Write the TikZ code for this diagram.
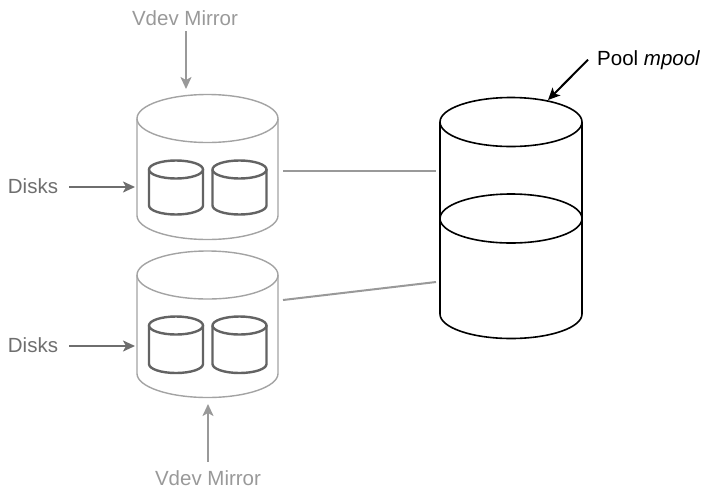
\documentclass[tikz,border=0pt]{standalone}
\usepackage{fontspec}
\setmainfont{Liberation Sans}
\usetikzlibrary{arrows.meta}

\definecolor{vdevgray}{HTML}{A3A3A3}
\definecolor{diskgray}{HTML}{636363}
\definecolor{labelgray}{HTML}{999999}
\definecolor{arrowgray}{HTML}{6E6E6E}

% cylinder: centre x, top centre y, bottom centre y, x radius, y radius, style
\newcommand\drawcyl[6]{%
  \draw[#6] (#1,#2) ellipse [x radius=#4, y radius=#5];
  \draw[#6] ({#1-#4},#2) -- ({#1-#4},#3)
    arc [start angle=180, end angle=360, x radius=#4, y radius=#5]
    -- ({#1+#4},#2);
}

\begin{document}
\begin{tikzpicture}[x=1pt,y=1pt,
  lbl/.style={font=\fontsize{20.5}{24}\selectfont, inner sep=0pt, anchor=base},
  vdev/.style={draw=vdevgray, line width=1.4pt},
  disk/.style={draw=diskgray, line width=2.4pt},
  pool/.style={draw=black, line width=1.6pt},
  link/.style={draw=labelgray, line width=2pt},
  tip/.style={-{Stealth[length=12pt,width=11pt,inset=3pt]}, line width=2pt}]
\useasboundingbox (0,0) rectangle (703,-491);

% vdev mirrors with their disks
\drawcyl{207.5}{-118.5}{-215.5}{70.5}{24}{vdev}
\drawcyl{176}{-169.5}{-205.5}{27}{9}{disk}
\drawcyl{239.5}{-169.5}{-205.5}{27}{9}{disk}

\drawcyl{207.5}{-275}{-373.5}{70.5}{24}{vdev}
\drawcyl{176}{-325.5}{-364}{27}{9}{disk}
\drawcyl{239.5}{-325.5}{-364}{27}{9}{disk}

% pool made of two stacked sections
\draw[pool] (511,-122) ellipse [x radius=71, y radius=24.5];
\draw[pool] (511,-218.5) ellipse [x radius=71, y radius=24.5];
\draw[pool] (440,-122) -- (440,-314)
  arc [start angle=180, end angle=360, x radius=71, y radius=24.5]
  -- (582,-122);

% connection points
\coordinate (v1out) at (283,-171);
\coordinate (v2out) at (283,-300);
\coordinate (p1in) at (436,-171);
\coordinate (p2in) at (436,-282);
\coordinate (v1top) at (186,-89);
\coordinate (v2bot) at (208,-404);
\coordinate (v1side) at (135,-187);
\coordinate (v2side) at (135,-346);
\coordinate (pooltop) at (548,-100);

% labels
\node[lbl, text=labelgray] (mir1) at (185,-25) {Vdev Mirror};
\node[lbl, text=labelgray] (mir2) at (208,-485) {Vdev Mirror};
\node[lbl, text=arrowgray] (disks1) at (33,-193) {Disks};
\node[lbl, text=arrowgray] (disks2) at (33,-352) {Disks};
\node[lbl, anchor=base west] (pooltxt) at (597,-65) {Pool \textit{mpool}};

% connectors
\draw[link] (v1out) -- (p1in);
\draw[link] (v2out) -- (p2in);
\draw[tip, labelgray] (mir1.south -| v1top) ++(0,-6) -- (v1top);
\draw[tip, labelgray] (mir2.north -| v2bot) ++(0,8) -- (v2bot);
\draw[tip, arrowgray] (disks1.east |- v1side) ++(11,0) -- (v1side);
\draw[tip, arrowgray] (disks2.east |- v2side) ++(11,0) -- (v2side);
\draw[tip, black] ([xshift=-9pt,yshift=0pt]pooltxt.west) -- (pooltop);
\end{tikzpicture}
\end{document}
